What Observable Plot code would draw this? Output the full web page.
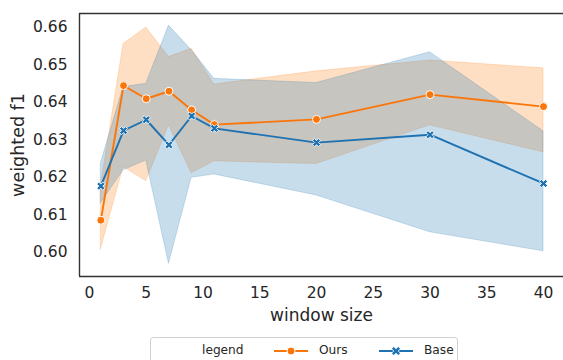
<!DOCTYPE html>
<html>
<head>
<meta charset="utf-8">
<script src="https://cdn.jsdelivr.net/npm/d3@7"></script>
<script src="https://cdn.jsdelivr.net/npm/@observablehq/plot@0.6"></script>
<style>
  html, body { margin: 0; padding: 0; background: #fff; }
  #wrap { position: relative; width: 563px; height: 360px; overflow: hidden; font-family: "DejaVu Sans", sans-serif; }
  #legend { position: absolute; left: 150px; top: 337px; width: 308px; height: 40px; border: 1px solid #d0d0d0; border-radius: 3px; box-sizing: border-box; background: #fff; font-size: 12.2px; color: #262626; }
  #legend span { position: absolute; top: 5px; }
  #legend svg { position: absolute; top: 6px; }
</style>
</head>
<body>
<div id="wrap"></div>
<script>
const windowSize = [1, 3, 5, 7, 9, 11, 20, 30, 40];
const oursMean = [0.6086, 0.6445, 0.6410, 0.6430, 0.6380, 0.6341, 0.6355, 0.6421, 0.6389];
const oursLow  = [0.6008, 0.6228, 0.6190, 0.6339, 0.6211, 0.6243, 0.6236, 0.6339, 0.6267];
const oursHigh = [0.6175, 0.6556, 0.6600, 0.6521, 0.6543, 0.6448, 0.6483, 0.6512, 0.6491];
const baseMean = [0.6177, 0.6325, 0.6354, 0.6287, 0.6364, 0.6331, 0.6293, 0.6314, 0.6184];
const baseLow  = [0.6131, 0.6219, 0.6245, 0.5970, 0.6199, 0.6208, 0.6152, 0.6054, 0.6003];
const baseHigh = [0.6237, 0.6441, 0.6450, 0.6605, 0.6539, 0.6463, 0.6452, 0.6534, 0.6323];
const xTicks = [0, 5, 10, 15, 20, 25, 30, 35, 40];
const yTicks = [0.60, 0.61, 0.62, 0.63, 0.64, 0.65, 0.66];
const seriesNames = ["Ours", "Base"];

const orange = "#fa760a";
const blue = "#1f72b2";
const xDomain = [-0.88, 41.76];
const yDomain = [0.5936, 0.66373];

const rows = (mean, low, high, name) => windowSize.map((w, i) => ({x: w, y: mean[i], lo: low[i], hi: high[i], series: name}));
const ours = rows(oursMean, oursLow, oursHigh, seriesNames[0]);
const base = rows(baseMean, baseLow, baseHigh, seriesNames[1]);

const chart = Plot.plot({
  width: 563,
  height: 330,
  marginLeft: 79,
  marginRight: 0,
  marginTop: 13,
  marginBottom: 54,
  style: {fontFamily: "DejaVu Sans, sans-serif", fontSize: "15.5px", color: "#262626", background: "#fff", overflow: "visible"},
  x: {domain: xDomain, ticks: xTicks, tickSize: 0, tickPadding: 10, label: null},
  y: {domain: yDomain, ticks: yTicks, tickFormat: ".2f", tickSize: 0, tickPadding: 12, label: null},
  marks: [
    Plot.areaY(ours, {x: "x", y1: "lo", y2: "hi", fill: "#ff7f0e", fillOpacity: 0.25, stroke: "#ff7f0e", strokeOpacity: 0.2, strokeWidth: 1}),
    Plot.areaY(base, {x: "x", y1: "lo", y2: "hi", fill: "#1f77b4", fillOpacity: 0.25, stroke: "#1f77b4", strokeOpacity: 0.2, strokeWidth: 1}),
    Plot.line(ours, {x: "x", y: "y", stroke: orange, strokeWidth: 1.9}),
    Plot.dot(ours, {x: "x", y: "y", r: 4, fill: orange, stroke: "#fff", strokeWidth: 1}),
    Plot.line(base, {x: "x", y: "y", stroke: blue, strokeWidth: 1.9}),
    Plot.dot(base, {x: "x", y: "y", symbol: "cross", rotate: 45, r: 3.6, fill: blue, stroke: "#fff", strokeWidth: 0.8}),
    Plot.ruleY([yDomain[1]], {stroke: "#333", strokeWidth: 1.4}),
    Plot.ruleY([yDomain[0]], {stroke: "#333", strokeWidth: 1.4}),
    Plot.ruleX([xDomain[0]], {stroke: "#333", strokeWidth: 1.4}),
    Plot.text(["window size"], {frameAnchor: "bottom", dy: 39, lineAnchor: "middle", textAnchor: "middle", fontSize: 17, fill: "#262626"}),
    Plot.text(["weighted f1"], {frameAnchor: "left", dx: -61, rotate: -90, lineAnchor: "middle", textAnchor: "middle", fontSize: 17.5, fill: "#262626"})
  ]
});
const wrap = document.getElementById("wrap");
wrap.appendChild(chart);

const legend = document.createElement("div");
legend.id = "legend";
legend.innerHTML = `
  <span style="left:51px">legend</span>
  <svg style="left:122px" width="36" height="14"><line x1="1" y1="7" x2="35" y2="7" stroke="${orange}" stroke-width="1.9"/><circle cx="18" cy="7" r="4" fill="${orange}" stroke="#fff" stroke-width="1"/></svg>
  <span style="left:168px">${seriesNames[0]}</span>
  <svg style="left:227px" width="36" height="14"><line x1="1" y1="7" x2="35" y2="7" stroke="${blue}" stroke-width="1.9"/><path transform="translate(18,7) rotate(45)" d="${d3.symbol(d3.symbolCross, 50)()}" fill="${blue}" stroke="#fff" stroke-width="0.8"/></svg>
  <span style="left:273px">${seriesNames[1]}</span>`;
wrap.appendChild(legend);
</script>
</body>
</html>
